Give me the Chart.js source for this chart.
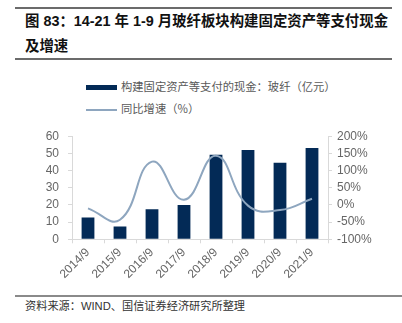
<!DOCTYPE html>
<html lang="zh">
  <head>
    <meta charset="UTF-8" />
    <title>玻纤板块构建固定资产等支付现金及增速</title>
    <script src="https://cdn.jsdelivr.net/npm/chart.js"></script>
    <style>
      body {
        margin: 0;
        width: 402px;
        height: 323px;
        background: #fff;
        position: relative;
        overflow: hidden;
        font-family: "Liberation Sans", "Noto Sans CJK SC", sans-serif;
      }
      .rule {
        position: absolute;
        left: 15px;
        height: 2px;
        background: #6b6b6b;
      }
      .title {
        position: absolute;
        left: 25px;
        top: 9px;
        font-size: 14.4px;
        font-weight: bold;
        line-height: 25px;
        color: #111;
        white-space: nowrap;
      }
      .legend {
        position: absolute;
        left: 86px;
        font-size: 11.3px;
        color: #595959;
        font-family: "Noto Sans CJK SC", sans-serif;
        white-space: nowrap;
      }
      .legend span {
        display: inline-block;
        width: 31px;
        margin-right: 4px;
        vertical-align: middle;
      }
      .source {
        position: absolute;
        left: 25px;
        top: 297px;
        font-size: 11.2px;
        color: #333;
        white-space: nowrap;
      }
      #wrap {
        position: absolute;
        left: 0;
        top: 120px;
        width: 402px;
        height: 172px;
      }
    </style>
  </head>
  <body>
    <div class="rule" style="top: 7px; width: 377px"></div>
    <div class="title">图 83：14-21 年 1-9 月玻纤板块构建固定资产等支付现金<br />及增速</div>
    <div class="rule" style="top: 58px; width: 377px"></div>

    <div class="legend" style="top: 78px"><span style="height: 5px; background: #032a56"></span>构建固定资产等支付的现金：玻纤（亿元）</div>
    <div class="legend" style="top: 100px"><span style="height: 2px; background: #8ea6bf"></span>同比增速（%）</div>

    <div id="wrap"><canvas id="chart"></canvas></div>

    <div class="rule" style="top: 295px; width: 387px; background: #8a8a8a"></div>
    <div class="source">资料来源：WIND、国信证券经济研究所整理</div>

    <script>
      const years = ["2014/9", "2015/9", "2016/9", "2017/9", "2018/9", "2019/9", "2020/9", "2021/9"];
      // 构建固定资产等支付的现金（亿元）
      const cashPaid = [12.7, 7.5, 17.5, 20.0, 49.2, 51.9, 44.6, 53.1];
      // 同比增速（%）
      const yoyGrowth = [-10, -43, 126, 15, 143, -2, -15, 18];

      const axisGray = "#d9d9d9";
      const tickColor = "#666";
      const tickFont = { family: "Liberation Sans", size: 12 };

      new Chart(document.getElementById("chart"), {
        data: {
          labels: years,
          datasets: [
            {
              type: "line",
              label: "同比增速（%）",
              data: yoyGrowth,
              yAxisID: "y1",
              borderColor: "#8ea6bf",
              borderWidth: 2,
              pointRadius: 0,
              tension: 0.45,
              order: 0,
            },
            {
              type: "bar",
              label: "构建固定资产等支付的现金：玻纤（亿元）",
              data: cashPaid,
              yAxisID: "y",
              backgroundColor: "#032a56",
              barPercentage: 0.4,
              categoryPercentage: 1,
              order: 1,
            },
          ],
        },
        options: {
          responsive: true,
          maintainAspectRatio: false,
          animation: false,
          layout: { padding: { top: 15, left: 0, right: 0, bottom: 0 } },
          plugins: { legend: { display: false }, tooltip: { enabled: false } },
          scales: {
            x: {
              offset: true,
              border: { color: axisGray, width: 1 },
              grid: { offset: true, drawOnChartArea: false, drawTicks: true, tickLength: 4, color: axisGray },
              ticks: { color: tickColor, font: tickFont, minRotation: 45, maxRotation: 45, padding: 2, autoSkip: false },
              afterFit: (s) => { s.height = 52.7; },
            },
            y: {
              position: "left",
              min: 0,
              max: 60,
              border: { color: axisGray, width: 1 },
              grid: { drawOnChartArea: false, drawTicks: true, tickLength: 4, color: axisGray },
              ticks: { stepSize: 10, color: tickColor, font: tickFont, padding: 9, autoSkip: false },
              afterFit: (s) => { s.width = 72; },
            },
            y1: {
              position: "right",
              min: -100,
              max: 200,
              border: { color: axisGray, width: 1 },
              grid: { drawOnChartArea: false, drawTicks: true, tickLength: 4, color: axisGray },
              ticks: { stepSize: 50, color: tickColor, font: tickFont, padding: 5, autoSkip: false, callback: (v) => v + "%" },
              afterFit: (s) => { s.width = 74; },
            },
          },
        },
      });
    </script>
  </body>
</html>
